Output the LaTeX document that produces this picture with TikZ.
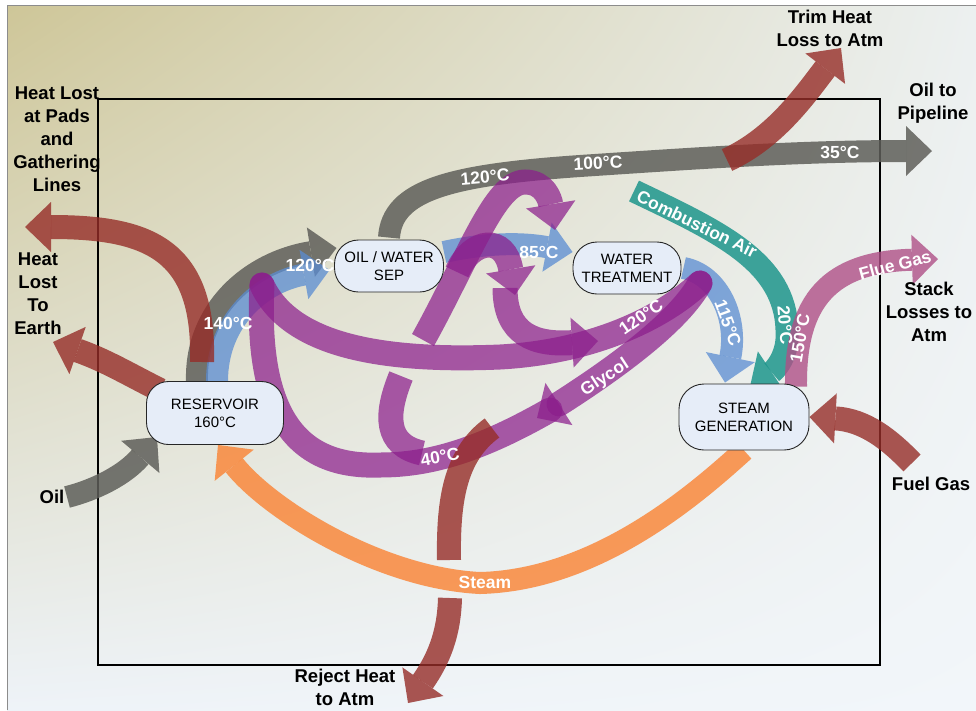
\documentclass[tikz,border=0pt]{standalone}
\usepackage{fontspec}
\setmainfont{Liberation Sans}
\usetikzlibrary{arrows.meta,shadings}
\pgfdeclarelayer{bgl}
\pgfdeclarelayer{flows}
\pgfsetlayers{bgl,flows,main}
\definecolor{tanbg}{RGB}{206,198,152}
\definecolor{midbg}{RGB}{236,240,240}
\definecolor{lowbg}{RGB}{238,243,248}
\definecolor{lrbg}{RGB}{242,246,250}
\definecolor{cgray}{RGB}{95,95,90}
\definecolor{cred}{RGB}{150,45,40}
\definecolor{cpur}{RGB}{140,30,140}
\definecolor{cblue}{RGB}{90,140,210}
\definecolor{corange}{RGB}{250,130,50}
\definecolor{cteal}{RGB}{30,150,140}
\definecolor{cpink}{RGB}{175,80,135}
\definecolor{boxfill}{RGB}{230,237,248}
\begin{document}
\begin{tikzpicture}[x=1pt,y=-1pt,
  flow/.style={line width=23pt,opacity=.8},
  tipA/.style={-{Triangle[width=50pt,length=26pt,line width=0pt]}},
  gf/.style={flow,draw=cgray,opacity=.85,line width=22pt},
  rf/.style={flow,draw=cred,line width=24pt},
  pf/.style={flow,draw=cpur,opacity=.72,line width=25pt},
  bf/.style={flow,draw=cblue,opacity=.75,line width=22pt},
  of/.style={flow,draw=corange,line width=22pt},
  tf/.style={flow,draw=cteal,opacity=.85,line width=23pt},
  kf/.style={flow,draw=cpink,line width=22pt},
  box/.style={draw=black!85,line width=0.9pt,fill=boxfill,align=center,inner sep=0pt,font=\fontsize{15}{18}\selectfont},
  wl/.style={text=white,font=\bfseries\fontsize{17.5}{20}\selectfont,inner sep=0pt},
  bl/.style={text=black,font=\bfseries\fontsize{18.5}{23}\selectfont,align=center,inner sep=0pt}]

\useasboundingbox (0,0) rectangle (976,710);

\begin{pgfonlayer}{bgl}
\fill[white] (0,0) rectangle (976,710);
\shade[upper left=tanbg, upper right=midbg, lower left=lowbg, lower right=lrbg] (7,5) rectangle (976,710);
\draw[black!45,line width=1pt] (7,710) -- (7,5) -- (976,5);
\draw[black,line width=2pt] (98,99) rectangle (880,665);
\end{pgfonlayer}

% process nodes
\node[box,minimum width=109pt,minimum height=52pt,rounded corners=24pt] (ows) at (389,266) {OIL / WATER\\SEP};
\node[box,minimum width=108pt,minimum height=52pt,rounded corners=24pt] (wt) at (627,268) {WATER\\TREATMENT};
\node[box,minimum width=137pt,minimum height=63pt,rounded corners=22pt] (res) at (215,413) {RESERVOIR\\160°C};
\node[box,minimum width=130pt,minimum height=66pt,rounded corners=25pt] (sg) at (744,417) {STEAM\\GENERATION};

% free ends
\coordinate (oilT) at (67,497);
\coordinate (oilH) at (157,437);
\coordinate (padT) at (202,362);
\coordinate (padH) at (25,227);
\coordinate (earT) at (160,390);
\coordinate (earH) at (53,342);
\coordinate (trimT) at (727,160);
\coordinate (trimH) at (841,48);
\coordinate (pipeH) at (932,151);
\coordinate (fuelT) at (912,463);
\coordinate (rejA) at (492,428);
\coordinate (rejB) at (449,560);
\coordinate (rejC) at (450,598);
\coordinate (rejH) at (408,703);
\coordinate (airT) at (634,191);
\coordinate (flueH) at (938,259);
\coordinate (pTL) at (262,285);
\coordinate (pTR) at (700,283);
\coordinate (pGH) at (537,418);
\coordinate (pGB) at (550,410);
\coordinate (pA0) at (423,340);
\coordinate (pAH) at (555,230);
\coordinate (pB0) at (457,272);
\coordinate (pBH) at (515,295);
\coordinate (pC0) at (505,288);
\coordinate (pCH) at (598,341);
\coordinate (pD0) at (401,376);
\coordinate (pD1) at (422,453);

\begin{pgfonlayer}{flows}
\draw[gf,tipA] ([yshift=2pt]ows.north) .. controls (392,190) and (450,175) .. (580,166) .. controls (700,158) and (800,151) .. (pipeH);
\draw[rf,tipA] (trimT) .. controls (775,138) and (805,95) .. (trimH);
\draw[gf,tipA] ([xshift=-18pt]res.north) .. controls (195,310) and (250,262) .. ([xshift=2.5pt,yshift=18pt]ows.west);
\draw[bf,tipA] ([xshift=2pt]res.north) .. controls (217,320) and (262,282) .. ([xshift=-4.5pt,yshift=-4pt]ows.west);
\draw[bf,tipA] ([yshift=14pt]ows.east) .. controls (490,242) and (525,243) .. ([yshift=16pt]wt.west);
\draw[bf,tipA] ([xshift=2pt]wt.east) .. controls (720,275) and (738,320) .. ([xshift=-19pt,yshift=1pt]sg.north);
\draw[tf,tipA] (airT) .. controls (720,232) and (785,262) .. (787,330) .. controls (789,355) and (775,370) .. ([xshift=6pt,yshift=-3pt]sg.north);
\draw[kf,tipA] ([xshift=52pt,yshift=-3pt]sg.north) .. controls (795,300) and (830,262) .. (flueH);
\draw[rf,tipA] (padT) .. controls (205,250) and (150,227) .. (padH);
\draw[rf,tipA] (earT) .. controls (130,375) and (105,360) .. (earH);
\draw[gf,tipA] (oilT) .. controls (95,490) and (125,475) .. (oilH);
\draw[rf,tipA] (fuelT) .. controls (890,440) and (865,420) .. (sg.east);
% glycol loops
\draw[pf,line cap=round] (pTL) .. controls (290,345) and (380,362) .. (500,357) .. controls (590,352) and (660,320) .. (pTR);
\draw[pf,line cap=round,tipA] (pTR) .. controls (680,320) and (620,365) .. (pGH);
\draw[pf,line cap=round] (pGB) .. controls (480,450) and (430,465) .. (380,465) .. controls (300,468) and (255,420) .. (pTL);
\draw[pf,tipA] (pA0) .. controls (470,255) and (495,182) .. (525,182) .. controls (545,182) and (550,200) .. (pAH);
\draw[pf,tipA] (pB0) .. controls (472,238) and (505,235) .. (pBH);
\draw[pf,tipA] (pC0) .. controls (505,335) and (535,345) .. (pCH);
\draw[pf] (pD0) .. controls (385,415) and (385,445) .. (pD1);
% reject heat and steam
\draw[rf] (rejA) .. controls (455,455) and (448,500) .. (rejB);
\draw[rf,tipA] (rejC) .. controls (449,635) and (438,660) .. (rejH);
\draw[of,tipA] (sg.south) .. controls (700,490) and (600,580) .. (480,583) .. controls (380,578) and (270,510) .. ([xshift=3pt]res.south);
\end{pgfonlayer}

% labels on flows
\node[wl] (t140) at (228,323) {140°C};
\node[wl] (t120a) at (310,265) {120°C};
\node[wl,rotate=5] (t120b) at (485,177) {120°C};
\node[wl,rotate=3] (t100) at (598,163) {100°C};
\node[wl] (t35) at (840,152) {35°C};
\node[wl] (t85) at (539,252) {85°C};
\node[wl,rotate=-70] (t115) at (728,323) {115°C};
\node[wl,rotate=-85] (t20) at (785,325) {20°C};
\node[wl,rotate=80] (t150) at (800,338) {150°C};
\node[wl,rotate=15] (tflue) at (895,265) {Flue Gas};
\node[wl,rotate=-26] (tair) at (697,224) {Combustion Air};
\node[wl,rotate=35] (t120c) at (641,317) {120°C};
\node[wl,rotate=33] (tgly) at (605,378) {Glycol};
\node[wl,rotate=10] (t40) at (440,457) {40°C};
\node[wl] (tsteam) at (485,582) {Steam};

% outside labels
\node[bl] (lpads) at (57,139) {Heat Lost\\at Pads\\and\\Gathering\\Lines};
\node[bl] (learth) at (38,294) {Heat\\Lost\\To\\Earth};
\node[bl] (loil) at (52,497) {Oil};
\node[bl] (lrej) at (345,687) {Reject Heat\\to Atm};
\node[bl] (ltrim) at (830,28) {Trim Heat\\Loss to Atm};
\node[bl] (lpipe) at (933,103) {Oil to\\Pipeline};
\node[bl] (lstack) at (929,312) {Stack\\Losses to\\Atm};
\node[bl] (lfuel) at (931,484) {Fuel Gas};
\end{tikzpicture}
\end{document}
